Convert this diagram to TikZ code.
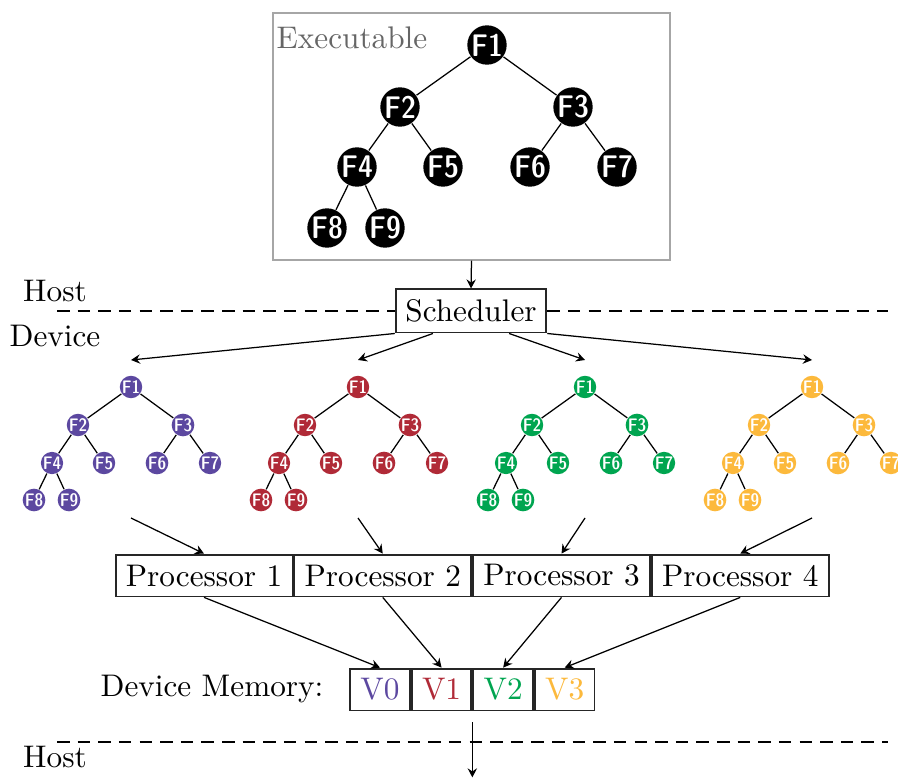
\documentclass[tikz,border=0pt]{standalone}
\usetikzlibrary{calc,arrows.meta}
\definecolor{cpurple}{RGB}{92,72,160}
\definecolor{cred}{RGB}{176,42,55}
\definecolor{cgreen}{RGB}{0,165,80}
\definecolor{cyellow}{RGB}{252,185,60}
\tikzset{
  bign/.style={circle,fill=black,text=white,inner sep=0pt,minimum size=12.6pt,
    font=\fontsize{10}{12}\fontseries{sbc}\sffamily},
  smalln/.style={circle,fill=#1,text=white,inner sep=0pt,minimum size=7pt,
    font=\fontsize{5.8}{7}\fontseries{sbc}\sffamily},
  treeedge/.style={draw=black,thin},
  box/.style={draw=black!85,semithick,inner sep=0pt,minimum height=13.4pt},
  arr/.style={-{Stealth[length=2.9pt,width=3pt,inset=1pt]},thin},
  hostline/.style={dash pattern=on 4pt off 2.6pt,semithick},
  lbl/.style={inner sep=0pt}
}
\newcommand\smalltree[4]{%
  \begin{scope}[shift={(#2,387)}]
    \node[smalln=#3] (#1F1) at (0,0) {F1};
    \node[smalln=#3] (#1F2) at (-53,38) {F2};
    \node[smalln=#3] (#1F3) at (52,38) {F3};
    \node[smalln=#3] (#1F4) at (-79,76) {F4};
    \node[smalln=#3] (#1F5) at (-27,76) {F5};
    \node[smalln=#3] (#1F6) at (26,76) {F6};
    \node[smalln=#3] (#1F7) at (79,76) {F7};
    \node[smalln=#3] (#1F8) at (-97,113) {F8};
    \node[smalln=#3] (#1F9) at (-62,113) {F9};
    \draw[treeedge] (#1F1) -- (#1F2) (#1F1) -- (#1F3) (#1F2) -- (#1F4)
      (#1F2) -- (#1F5) (#1F3) -- (#1F6) (#1F3) -- (#1F7) (#1F4) -- (#1F8) (#1F4) -- (#1F9);
    \coordinate (#1in) at (0,-27);
    \coordinate (#1out) at (0,131);
  \end{scope}%
}
\begin{document}
\begin{tikzpicture}[x=0.32pt,y=-0.32pt]
\useasboundingbox (0,0) rectangle (898,780);
% executable box
\node[draw=black!35,thin,inner sep=0pt,minimum width=127pt,minimum height=79pt] (exe) at (471.5,136.5) {};
\node[lbl,anchor=west,text=black!60] (exelbl) at (276,38) {Executable};
\node[bign] (F1) at (487,45) {F1};
\node[bign] (F2) at (400,107) {F2};
\node[bign] (F3) at (573,107) {F3};
\node[bign] (F4) at (357,167) {F4};
\node[bign] (F5) at (443,167) {F5};
\node[bign] (F6) at (530,167) {F6};
\node[bign] (F7) at (617,167) {F7};
\node[bign] (F8) at (327,228) {F8};
\node[bign] (F9) at (385,228) {F9};
\draw[treeedge] (F1) -- (F2) (F1) -- (F3) (F2) -- (F4) (F2) -- (F5)
  (F3) -- (F6) (F3) -- (F7) (F4) -- (F8) (F4) -- (F9);
% scheduler
\node[box,minimum width=48.2pt,minimum height=13.8pt] (sched) at (471,311) {Scheduler};
\draw[arr] (exe.south) -- (sched.north);
% host/device line
\node[lbl] (host1) at (55,291) {Host};
\node[lbl] (dev) at (55,336) {Device};
\coordinate (hl1) at (57,311);
\coordinate (hl2) at (888,311);
\draw[hostline] (hl1) -- (sched.west);
\draw[hostline] (sched.east) -- (hl2);
% trees
\smalltree{a}{131}{cpurple}{}
\smalltree{b}{358}{cred}{}
\smalltree{c}{585}{cgreen}{}
\smalltree{d}{812}{cyellow}{}
\draw[arr] (sched.south west) -- (ain);
\draw[arr] ($(sched.south west)!0.25!(sched.south east)$) -- (bin);
\draw[arr] ($(sched.south west)!0.75!(sched.south east)$) -- (cin);
\draw[arr] (sched.south east) -- (din);
% processors
\node[box,minimum width=56.6pt] (P1) at (204,575.5) {Processor 1};
\node[box,minimum width=56.6pt,anchor=west] (P2) at (P1.east) {Processor 2};
\node[box,minimum width=56.6pt,anchor=west] (P3) at (P2.east) {Processor 3};
\node[box,minimum width=56.6pt,anchor=west] (P4) at (P3.east) {Processor 4};
\draw[arr] (aout) -- (P1.north);
\draw[arr] (bout) -- (P2.north);
\draw[arr] (cout) -- (P3.north);
\draw[arr] (dout) -- (P4.north);
% memory
\node[lbl,anchor=base west] (memlbl) at (100,696) {Device Memory:};
\node[box,minimum width=19.1pt,text=cpurple] (V0) at (380,689.5) {V0};
\node[box,minimum width=19.1pt,text=cred,anchor=west] (V1) at (V0.east) {V1};
\node[box,minimum width=19.1pt,text=cgreen,anchor=west] (V2) at (V1.east) {V2};
\node[box,minimum width=19.1pt,text=cyellow,anchor=west] (V3) at (V2.east) {V3};
\draw[arr] (P1.south) -- (V0.north);
\draw[arr] (P2.south) -- (V1.north);
\draw[arr] (P3.south) -- (V2.north);
\draw[arr] (P4.south) -- (V3.north);
% bottom host line
\coordinate (hl3) at (57,742);
\coordinate (hl4) at (888,742);
\draw[hostline] (hl3) -- (hl4);
\node[lbl] (host2) at (55,757) {Host};
\coordinate (outs) at ($(V1.south east)+(0,11)$);
\coordinate (outc) at ($(V1.south east)+(0,66)$);
\draw[arr] (outs) -- (outc);
\end{tikzpicture}
\end{document}
